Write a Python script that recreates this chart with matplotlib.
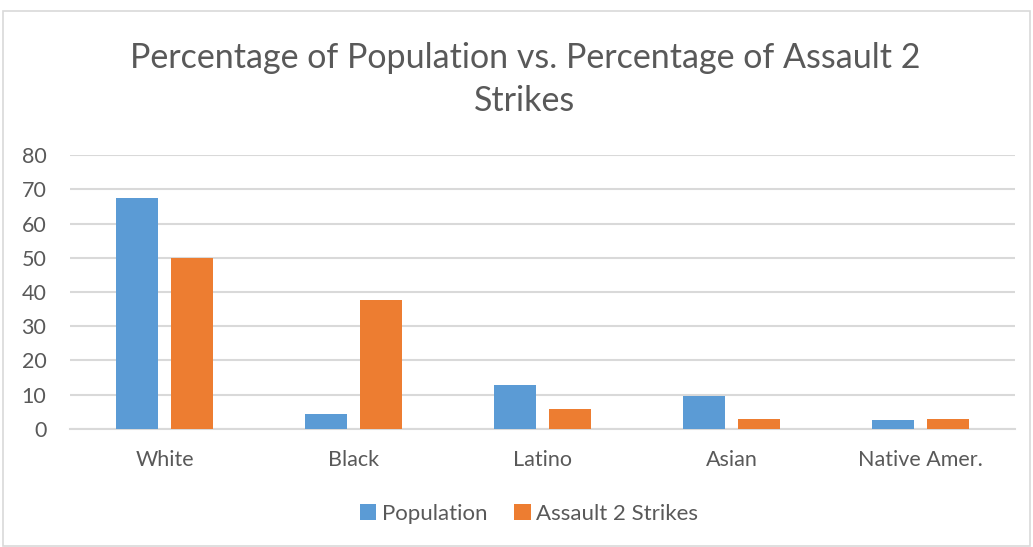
import numpy as np
import matplotlib.pyplot as plt
from matplotlib.patches import Rectangle

categories = ["White", "Black", "Latino", "Asian", "Native Amer."]
population = [67.4, 4.3, 12.8, 9.5, 2.5]
assault2 = [50.0, 37.8, 5.8, 2.8, 2.8]
yticks = [0, 10, 20, 30, 40, 50, 60, 70, 80]

blue = "#5b9bd5"
orange = "#ed7d31"
txt = "#595959"
grid = "#d9d9d9"

plt.rcParams['font.family'] = ['Lato', 'DejaVu Sans']

fig = plt.figure(figsize=(10.33, 5.47), dpi=100)
# chart frame
fig.patches.append(Rectangle((3 / 1033, 0.002), 1027 / 1033, 1 - 11 / 547 - 0.002,
                             transform=fig.transFigure, fill=False,
                             edgecolor=grid, lw=1.2))

ax = fig.add_axes([70 / 1033, 118.3 / 547, 945 / 1033, 273.4 / 547])

x = np.arange(len(categories))
w = 0.222
off = 0.143
ax.bar(x - off, population, w, color=blue, label="Population", zorder=3)
ax.bar(x + off, assault2, w, color=orange, label="Assault 2 Strikes", zorder=3)

ax.set_xlim(-0.5, len(categories) - 0.5)
ax.set_ylim(0, 80)
ax.set_yticks(yticks)
ax.set_xticks(x)
ax.set_xticklabels(categories)
ax.yaxis.grid(True, color=grid, lw=1.5, zorder=0)
ax.tick_params(axis='both', length=0, labelsize=15.5, colors=txt)
ax.tick_params(axis='x', pad=15)
ax.tick_params(axis='y', pad=17)
for s in ['top', 'right', 'left']:
    ax.spines[s].set_visible(False)
ax.spines['bottom'].set_color(grid)
ax.spines['bottom'].set_linewidth(1.5)

fig.text(525 / 1033, 1 - 58 / 547, "Percentage of Population vs. Percentage of Assault 2",
         ha='center', va='center', fontsize=24.5, color=txt)
fig.text(525 / 1033, 1 - 101 / 547, "Strikes",
         ha='center', va='center', fontsize=24.5, color=txt)

fig.legend(loc='center', bbox_to_anchor=(529 / 1033, 1 - 514 / 547), ncol=2,
           frameon=False, fontsize=16, labelcolor=txt, handlelength=0.75,
           handleheight=0.75, handletextpad=0.25, columnspacing=1.2)

fig.savefig("out.png", dpi=100)
